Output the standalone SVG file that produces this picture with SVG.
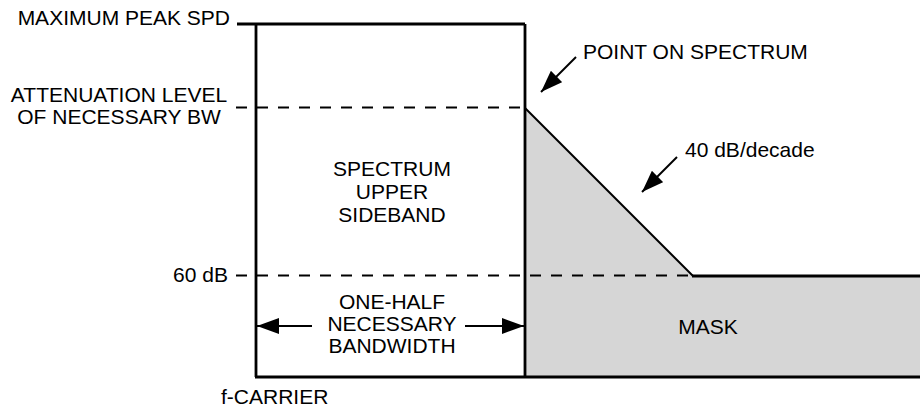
<svg xmlns="http://www.w3.org/2000/svg" width="920" height="409" viewBox="0 0 920 409">
<style>
text{font-family:"Liberation Sans",Arial,sans-serif;font-size:21px;fill:#000}
.c{text-anchor:middle}
.e{text-anchor:end}
.solid{stroke:#000;stroke-width:2.8;fill:none}
.dash{stroke:#000;stroke-width:2.2;fill:none;stroke-dasharray:11 10}
.lead{stroke:#000;stroke-width:2;fill:none}
</style>
<defs>
<marker id="ah" viewBox="0 0 22 16" refX="22" refY="8" markerWidth="22" markerHeight="16" markerUnits="userSpaceOnUse" orient="auto">
<path d="M0,0 L22,8 L0,16 Z" fill="#000"/>
</marker>
</defs>
<g id="mask">
<polygon points="525,108 693,276 920,276 920,377 525,377" fill="#d6d6d6"/>
<line class="lead" x1="525" y1="108" x2="693" y2="276"/>
<line class="solid" x1="692" y1="276" x2="920" y2="276"/>
<text class="c" x="708" y="334">MASK</text>
</g>
<g id="levels">
<line class="dash" x1="236" y1="107.5" x2="525" y2="107.5"/>
<line class="dash" x1="236" y1="275.5" x2="693" y2="275.5"/>
<line class="solid" x1="237" y1="24" x2="525" y2="24"/>
</g>
<g id="sideband">
<line class="solid" x1="256" y1="24" x2="256" y2="377"/>
<line class="solid" x1="525" y1="24" x2="525" y2="377"/>
<line class="solid" x1="255" y1="377" x2="920" y2="377"/>
<text class="c" x="392" y="176">SPECTRUM</text>
<text class="c" x="392" y="199">UPPER</text>
<text class="c" x="392" y="222">SIDEBAND</text>
<text class="c" x="392" y="309">ONE-HALF</text>
<text class="c" x="392" y="331">NECESSARY</text>
<text class="c" x="392" y="353">BANDWIDTH</text>
</g>
<g id="labels">
<text class="e" x="230" y="25">MAXIMUM PEAK SPD</text>
<text class="c" x="119" y="102">ATTENUATION LEVEL</text>
<text class="c" x="119" y="124">OF NECESSARY BW</text>
<text class="e" x="228" y="282">60 dB</text>
<text x="221" y="404">f-CARRIER</text>
<text x="583" y="59">POINT ON SPECTRUM</text>
<text x="685" y="157">40 dB/decade</text>
</g>
<g id="connectors">
<line class="lead" x1="312" y1="326" x2="257" y2="326" marker-end="url(#ah)"/>
<line class="lead" x1="465" y1="326" x2="524" y2="326" marker-end="url(#ah)"/>
<line class="lead" x1="576" y1="57" x2="541" y2="92" marker-end="url(#ah)"/>
<line class="lead" x1="677" y1="157" x2="642" y2="192" marker-end="url(#ah)"/>
</g>
</svg>
